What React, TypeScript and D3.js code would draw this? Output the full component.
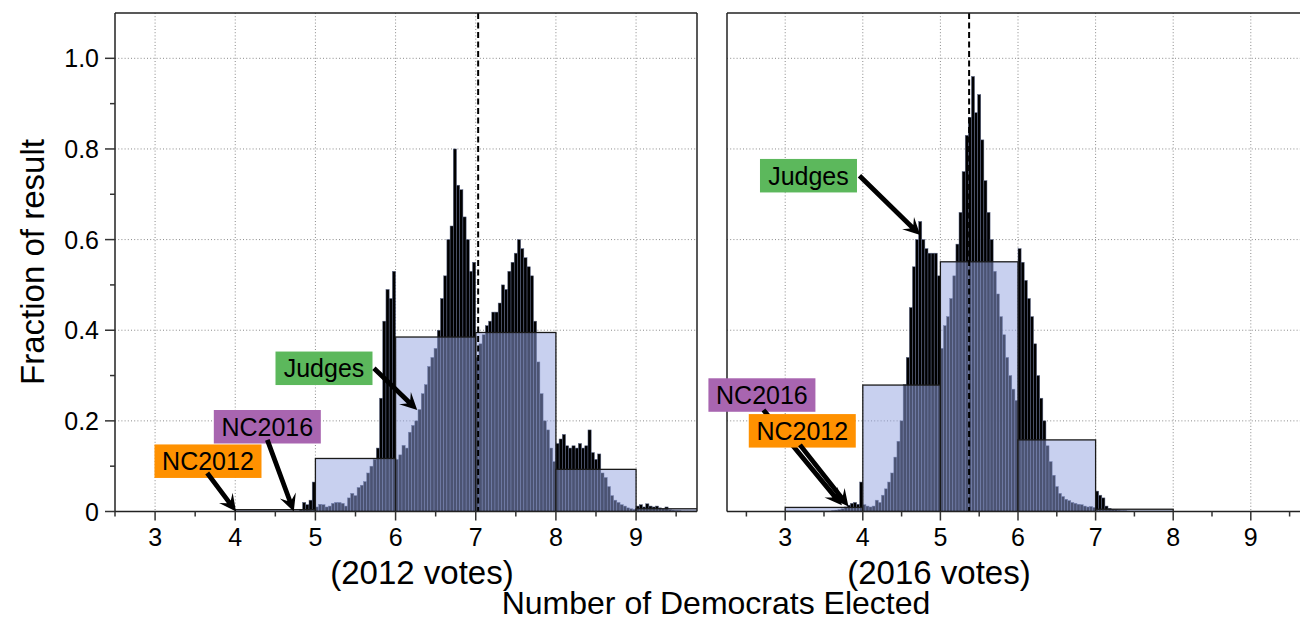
import React from 'react';
import * as d3 from 'd3';

const W = 1300;
const H = 623;
const FONT = 'Liberation Sans, Arial, Helvetica, sans-serif';

// fine histogram bin width (Number of Democrats)
const binWidth = 0.04;

// 2012 votes: fine histogram starting at 4.80
const fineStart2012 = 4.8;
const fineValues2012 = [
  0.005, 0.02, 0.015, 0.025, 0.065,
  0.01, 0.016, 0.015, 0.01, 0.012, 0.018, 0.02, 0.02, 0.018, 0.012,
  0.03, 0.04, 0.035, 0.053, 0.058, 0.066, 0.085, 0.1, 0.115, 0.14,
  0.25, 0.42, 0.49, 0.47, 0.53,
  0.115, 0.125, 0.146, 0.14, 0.175, 0.19, 0.2, 0.225, 0.26, 0.28,
  0.32, 0.34, 0.36, 0.4, 0.47, 0.52, 0.6, 0.63, 0.8, 0.72,
  0.71, 0.65, 0.6, 0.53, 0.55,
  0.34, 0.37, 0.39, 0.41, 0.42, 0.44, 0.44, 0.46, 0.5, 0.49,
  0.53, 0.55, 0.57, 0.6, 0.58, 0.56, 0.54, 0.52, 0.42, 0.33,
  0.26, 0.2, 0.18, 0.14, 0.11,
  0.15, 0.16, 0.17, 0.145, 0.14, 0.145, 0.14, 0.15, 0.14, 0.145,
  0.18, 0.13, 0.115, 0.127, 0.085, 0.075, 0.055, 0.035, 0.025, 0.02,
  0.015, 0.012, 0.008, 0.006, 0.005,
  0.012, 0.015, 0.01, 0.017, 0.012, 0.01, 0.012, 0.008, 0.006, 0.01,
  0.004, 0.003, 0.002, 0.002, 0.001, 0.001, 0.001, 0.001, 0.001,
];

// 2016 votes: fine histogram starting at 3.60
const fineStart2016 = 3.6;
const fineValues2016 = [
  0.002, 0.003, 0.004, 0.006, 0.01, 0.014, 0.018, 0.02, 0.016, 0.065,
  0.015, 0.012, 0.01, 0.012, 0.025, 0.02, 0.036, 0.05, 0.065, 0.085,
  0.12, 0.155, 0.2, 0.28, 0.34, 0.45, 0.54, 0.6, 0.64, 0.6,
  0.58, 0.57, 0.57, 0.57, 0.52,
  0.36, 0.41, 0.43, 0.47, 0.52, 0.59, 0.66, 0.75, 0.83, 0.87,
  0.96, 0.88, 0.92, 0.82, 0.73, 0.66, 0.6, 0.53, 0.48, 0.43,
  0.39, 0.34, 0.3, 0.27, 0.245,
  0.58, 0.55, 0.51, 0.47, 0.43, 0.37, 0.3, 0.25, 0.2, 0.145,
  0.11, 0.08, 0.055, 0.04, 0.033, 0.027, 0.024, 0.02, 0.018, 0.016,
  0.015, 0.012, 0.01, 0.011, 0.009,
  0.045, 0.036, 0.03, 0.012, 0.007, 0.005, 0.004, 0.003, 0.002, 0.002, 0.001,
];

// integer-seat histograms
const seatBins2012 = [4, 5, 6, 7, 8, 9];
const seatValues2012 = [0.004, 0.117, 0.385, 0.395, 0.093, 0.006];
const seatBins2016 = [3, 4, 5, 6, 7];
const seatValues2016 = [0.009, 0.279, 0.551, 0.158, 0.005];

const mean2012 = 7.03;
const mean2016 = 5.37;

const xTickValues = [3, 4, 5, 6, 7, 8, 9];
const xMinorTicks = [2.5, 3.5, 4.5, 5.5, 6.5, 7.5, 8.5, 9.5];
const yTickValues = [0, 0.2, 0.4, 0.6, 0.8, 1.0];
const yTickLabels = ['0', '0.2', '0.4', '0.6', '0.8', '1.0'];
const yMinorTicks = [0.1, 0.3, 0.5, 0.7, 0.9];

const labelColors = { Judges: '#5cb85c', NC2016: '#a865b0', NC2012: '#ff9100' };

// annotations: box centre, arrow start, arrow tip (data coords)
const annotations2012 = [
  { text: 'Judges', bx: 5.107, by: 0.316, sx: 5.73, sy: 0.316, tx: 6.27, ty: 0.224, w: 97 },
  { text: 'NC2016', bx: 4.4, by: 0.187, sx: 4.4, sy: 0.158, tx: 4.73, ty: 0.0, w: 107 },
  { text: 'NC2012', bx: 3.66, by: 0.111, sx: 3.65, sy: 0.085, tx: 4.01, ty: 0.0, w: 107 },
];
const annotations2016 = [
  { text: 'Judges', bx: 3.3, by: 0.741, sx: 3.957, sy: 0.741, tx: 4.74, ty: 0.61, w: 97 },
  { text: 'NC2016', bx: 2.7, by: 0.257, sx: 2.72, sy: 0.224, tx: 3.73, ty: 0.014, w: 107 },
  { text: 'NC2012', bx: 3.22, by: 0.178, sx: 3.19, sy: 0.147, tx: 3.815, ty: 0.011, w: 107 },
];

const Y0 = 511.5;
const YTOP = 13;

function arrowPath(sx: number, sy: number, tx: number, ty: number) {
  const dx = tx - sx;
  const dy = ty - sy;
  const len = Math.hypot(dx, dy);
  const ux = dx / len;
  const uy = dy / len;
  const nx = -uy;
  const ny = ux;
  const L = 17;
  const notch = 5;
  const hw = 8.5;
  const sw = 2.4;
  const bx = tx - ux * L;
  const by = ty - uy * L;
  const kx = tx - ux * (L - notch);
  const ky = ty - uy * (L - notch);
  const pts: [number, number][] = [
    [sx + nx * sw, sy + ny * sw],
    [kx + nx * sw, ky + ny * sw],
    [bx + nx * hw, by + ny * hw],
    [tx, ty],
    [bx - nx * hw, by - ny * hw],
    [kx - nx * sw, ky - ny * sw],
    [sx - nx * sw, sy - ny * sw],
  ];
  return 'M' + pts.map((p) => p[0].toFixed(2) + ',' + p[1].toFixed(2)).join('L') + 'Z';
}

type Ann = { text: string; bx: number; by: number; sx: number; sy: number; tx: number; ty: number; w: number };

function Panel(props: {
  id: string;
  x0: number;
  x1: number;
  domain: [number, number];
  fineStart: number;
  fine: number[];
  seatBins: number[];
  seatValues: number[];
  mean: number;
  anns: Ann[];
  showYLabels: boolean;
}) {
  const { id, x0, x1, domain, fineStart, fine, seatBins, seatValues, mean, anns, showYLabels } = props;
  const x = d3.scaleLinear().domain(domain).range([x0, x1]);
  const y = d3.scaleLinear().domain([0, 1.1]).range([Y0, YTOP]);
  const grid = '#8a8a8a';
  return (
    <g>
      <defs>
        <clipPath id={'clip-' + id}>
          <rect x={x0} y={YTOP} width={x1 - x0} height={Y0 - YTOP} />
        </clipPath>
      </defs>
      {/* grid */}
      <g stroke={grid} strokeWidth={1} strokeDasharray="1,2.2">
        {xTickValues.map((t) => (
          <line key={'gx' + t} x1={x(t)} x2={x(t)} y1={YTOP} y2={Y0} />
        ))}
        {yTickValues.filter((t) => t > 0).map((t) => (
          <line key={'gy' + t} x1={x0} x2={x1} y1={y(t)} y2={y(t)} />
        ))}
      </g>
      <g clipPath={`url(#clip-${id})`}>
        {/* fine histogram */}
        <g fill="#000" stroke="#5b6586" strokeWidth={0.5}>
          {fine.map((v, i) => {
            const a = fineStart + i * binWidth;
            return (
              <rect
                key={'f' + i}
                x={x(a)}
                y={y(v)}
                width={x(a + binWidth) - x(a)}
                height={Y0 - y(v)}
              />
            );
          })}
        </g>
        {/* integer seat histogram */}
        <g>
          {seatBins.map((b, i) => (
            <rect
              key={'s' + b}
              x={x(b)}
              y={y(seatValues[i])}
              width={x(b + 1) - x(b)}
              height={Y0 - y(seatValues[i])}
              fill="#93a3e0"
              fillOpacity={0.51}
              stroke="#1a1a1a"
              strokeWidth={1.3}
            />
          ))}
        </g>
        {/* mean line */}
        <line
          x1={x(mean)}
          x2={x(mean)}
          y1={YTOP}
          y2={Y0}
          stroke="#000"
          strokeWidth={2}
          strokeDasharray="6,3.5"
        />
      </g>
      {/* frame */}
      <g stroke="#222" strokeWidth={1.5} fill="none">
        <line x1={x0} x2={x0} y1={YTOP} y2={Y0} />
        <line x1={x1} x2={x1} y1={YTOP} y2={Y0} />
        <line x1={x0} x2={x1} y1={YTOP} y2={YTOP} />
        <line x1={x0} x2={x1} y1={Y0} y2={Y0} />
      </g>
      {/* x ticks */}
      <g stroke="#333" strokeWidth={1.5}>
        {xTickValues.map((t) => (
          <line key={'tx' + t} x1={x(t)} x2={x(t)} y1={Y0} y2={Y0 + 9} />
        ))}
        {xMinorTicks.map((t) => (
          <line key={'mx' + t} x1={x(t)} x2={x(t)} y1={Y0} y2={Y0 + 5} />
        ))}
      </g>
      <g fontFamily={FONT} fontSize={25} fill="#000" textAnchor="middle">
        {xTickValues.map((t) => (
          <text key={'lx' + t} x={x(t)} y={Y0 + 34}>
            {t}
          </text>
        ))}
      </g>
      {showYLabels && (
        <g>
          <g stroke="#333" strokeWidth={1.5}>
            {yTickValues.map((t) => (
              <line key={'ty' + t} x1={x0 - 10} x2={x0} y1={y(t)} y2={y(t)} />
            ))}
            {yMinorTicks.map((t) => (
              <line key={'my' + t} x1={x0 - 5} x2={x0} y1={y(t)} y2={y(t)} />
            ))}
          </g>
          <g fontFamily={FONT} fontSize={25} fill="#000" textAnchor="end">
            {yTickValues.map((t, i) => (
              <text key={'ly' + t} x={x0 - 16} y={y(t) + 9}>
                {yTickLabels[i]}
              </text>
            ))}
          </g>
        </g>
      )}
      {/* annotations */}
      {anns.map((a) => {
        const bxp = x(a.bx);
        const byp = y(a.by);
        const h = 33.5;
        return (
          <g key={'a' + a.text}>
            <rect
              x={bxp - a.w / 2}
              y={byp - h / 2}
              width={a.w}
              height={h}
              fill={(labelColors as any)[a.text]}
            />
            <text
              x={bxp}
              y={byp + 9}
              fontFamily={FONT}
              fontSize={25}
              textAnchor="middle"
              fill="#000"
            >
              {a.text}
            </text>
            <path d={arrowPath(x(a.sx), y(a.sy), x(a.tx), y(a.ty))} fill="#000" />
          </g>
        );
      })}
    </g>
  );
}

export default function App() {
  return (
    <svg
      width={W}
      height={H}
      style={{ position: 'absolute', left: 0, top: 0, background: '#fff' }}
    >
      <rect x={0} y={0} width={W} height={H} fill="#fff" />
      <Panel
        id="p2012"
        x0={115}
        x1={697}
        domain={[2.5, 9.76]}
        fineStart={fineStart2012}
        fine={fineValues2012}
        seatBins={seatBins2012}
        seatValues={seatValues2012}
        mean={mean2012}
        anns={annotations2012}
        showYLabels={true}
      />
      <Panel
        id="p2016"
        x0={727}
        x1={1309}
        domain={[2.25, 9.75]}
        fineStart={fineStart2016}
        fine={fineValues2016}
        seatBins={seatBins2016}
        seatValues={seatValues2016}
        mean={mean2016}
        anns={annotations2016}
        showYLabels={false}
      />
      <g fontFamily={FONT} fill="#000" textAnchor="middle" fontSize={33}>
        <text x={422} y={584}>
          (2012 votes)
        </text>
        <text x={939} y={584}>
          (2016 votes)
        </text>
        <text x={716} y={614} fontSize={32}>
          Number of Democrats Elected
        </text>
        <text transform="translate(44,262) rotate(-90)">
          Fraction of result
        </text>
      </g>
    </svg>
  );
}
